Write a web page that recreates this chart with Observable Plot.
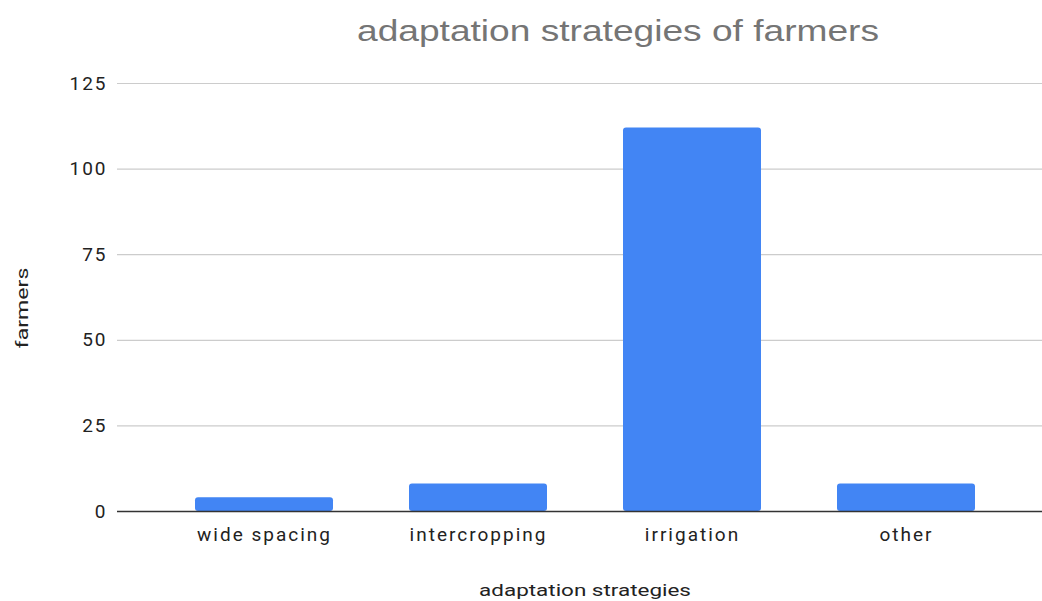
<!DOCTYPE html>
<html>
<head>
<meta charset="utf-8">
<script src="https://cdn.jsdelivr.net/npm/d3@7"></script>
<script src="https://cdn.jsdelivr.net/npm/@observablehq/plot@0.6"></script>
<style>
  html, body { margin: 0; padding: 0; background: #fff; }
  #wrap { position: relative; width: 1042px; height: 601px; }
  #title { position: absolute; left: 618px; top: 16px; line-height: 30px; white-space: nowrap;
    transform: translateX(-50%) scaleX(1.28);
    font-family: "Liberation Sans", Arial, sans-serif; font-size: 29px; color: #757575; }
  #ylabel { position: absolute; left: 22px; top: 308px; line-height: 17px; white-space: nowrap;
    transform: translate(-50%, -50%) rotate(-90deg) scaleX(1.36);
    font-family: Roboto, sans-serif; font-size: 17px; color: #222; }
  #xlabel { position: absolute; left: 585px; top: 582px; line-height: 17px; white-space: nowrap;
    transform: translateX(-50%) scaleX(1.32);
    font-family: Roboto, sans-serif; font-size: 17px; color: #222; }
  #chart { position: absolute; left: 0; top: 0; }
</style>
</head>
<body>
<div id="wrap">
  <div id="chart"></div>
  <div id="title">adaptation strategies of farmers</div>
  <div id="ylabel">farmers</div>
  <div id="xlabel">adaptation strategies</div>
</div>
<script>
const categories = ["wide spacing", "intercropping", "irrigation", "other"];
const farmers = [4, 8, 112, 8];
const yTicks = [0, 25, 50, 75, 100, 125];

const data = categories.map((c, i) => ({category: c, value: farmers[i]}));

const chart = Plot.plot({
  width: 1042,
  height: 601,
  marginTop: 83,
  marginBottom: 90,
  marginLeft: 117,
  marginRight: 0,
  style: {fontFamily: "Roboto, sans-serif", fontSize: "19px", letterSpacing: "2px", color: "#222", background: "transparent"},
  x: {domain: categories, range: [156, 1014], paddingInner: 0.356, paddingOuter: 0.178, label: null},
  y: {domain: [0, 125], ticks: yTicks, label: null},
  marks: [
    Plot.gridY(yTicks, {stroke: "#cccccc", strokeOpacity: 1, strokeWidth: 1.2}),
    Plot.axisY(yTicks, {tickSize: 0, tickPadding: 10, fontSize: 19, fill: "#222"}),
    Plot.axisX({tickSize: 0, tickPadding: 16, fontSize: 19, fill: "#222"}),
    Plot.barY(data, {x: "category", y: "value", fill: "#4285f4", rx: 3}),
    Plot.ruleY([0], {stroke: "#333", strokeWidth: 1.5})
  ]
});
document.getElementById("chart").appendChild(chart);
</script>
</body>
</html>
